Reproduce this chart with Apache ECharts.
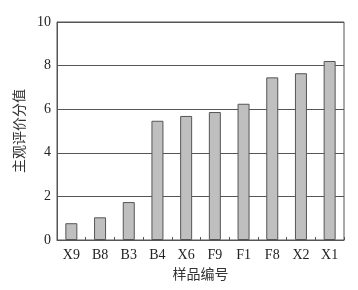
<!DOCTYPE html>
<html><head><meta charset="utf-8">
<script src="https://cdn.jsdelivr.net/npm/echarts@6/dist/echarts.min.js"></script>
<style>html,body{margin:0;padding:0;background:#fff}#c{width:358px;height:290px}</style>
</head><body><div id="c"></div>
<script>
const categories = ['X9','B8','B3','B4','X6','F9','F1','F8','X2','X1'];
const values = [0.77, 1.04, 1.74, 5.47, 5.69, 5.87, 6.25, 7.46, 7.65, 8.21];
const yTicks = [0, 2, 4, 6, 8, 10];
const xName = '样品编号';
const yName = '主观评价分值';
const serif = '"Liberation Serif", "Noto Sans CJK SC", serif';
const chart = echarts.init(document.getElementById('c'), null, {renderer:'canvas'});
chart.setOption({
  animation: false,
  grid: {left:57, right:14, top:22, bottom:50, show:true, borderColor:'#555', borderWidth:1, containLabel:false},
  xAxis: {
    type:'category', data:categories,
    name:xName, nameLocation:'middle', nameGap:27,
    nameTextStyle:{fontFamily:'"Noto Sans CJK SC"', fontSize:14, color:'#333'},
    axisLine:{lineStyle:{color:'#555', width:1}},
    axisTick:{show:true, inside:true, length:3, lineStyle:{color:'#555'}},
    axisLabel:{fontFamily:serif, fontSize:14, color:'#222', margin:8}
  },
  yAxis: {
    type:'value', min:0, max:10, interval:2,
    name:yName, nameLocation:'middle', nameGap:25, nameRotate:90,
    nameTextStyle:{fontFamily:'"Noto Sans CJK SC"', fontSize:14, color:'#333'},
    axisLine:{show:true, lineStyle:{color:'#555', width:1}},
    axisTick:{show:false},
    axisLabel:{fontFamily:serif, fontSize:14, color:'#222', margin:6,
      formatter: v => yTicks.includes(v) ? String(v) : ''},
    splitLine:{show:true, lineStyle:{color:'#555', width:1}}
  },
  series: [{
    type:'bar', data:values, barWidth:12,
    itemStyle:{color:'#bfbfbf', borderColor:'#555', borderWidth:1}
  }]
});
</script></body></html>
